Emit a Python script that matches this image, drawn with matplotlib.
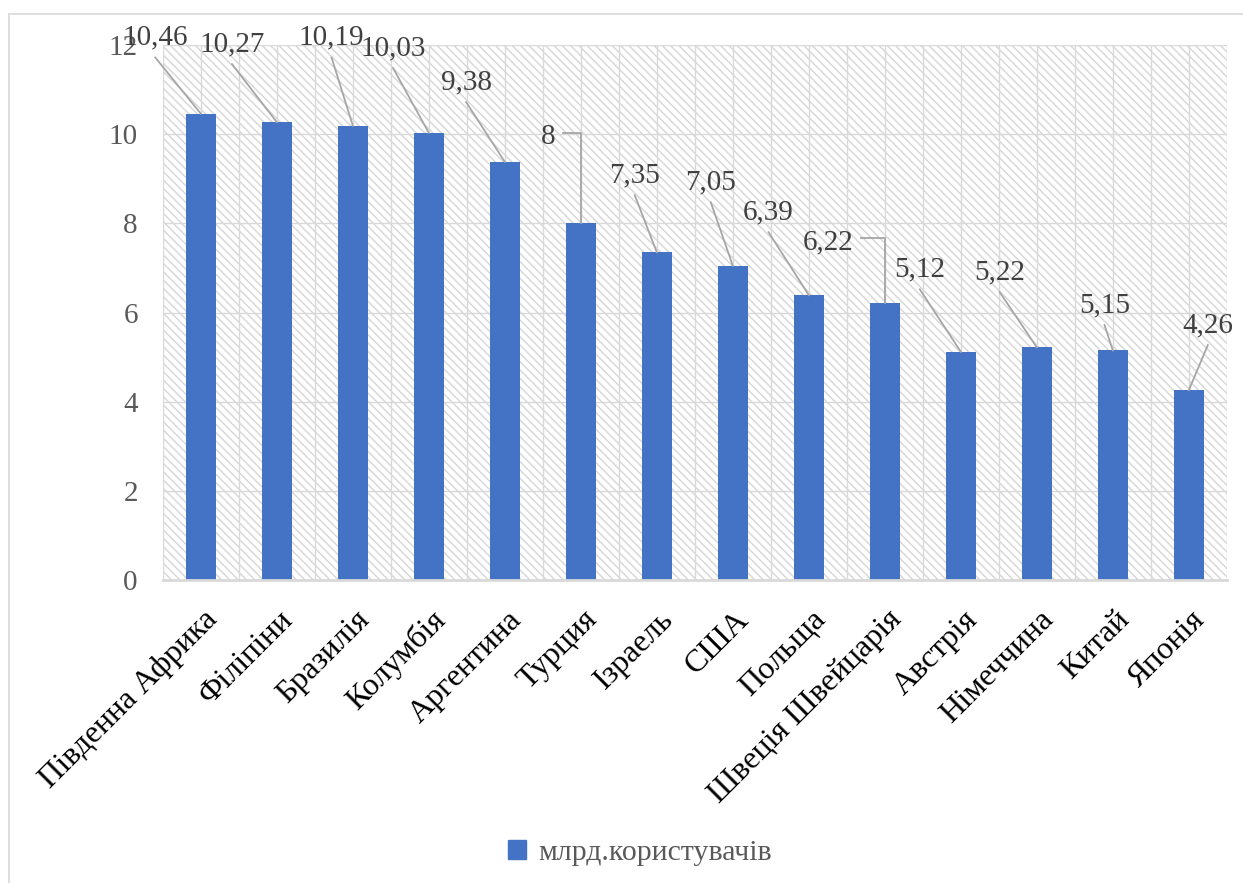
import matplotlib
matplotlib.use("Agg")
from matplotlib import pyplot as plt
from matplotlib.patches import Rectangle
from matplotlib.lines import Line2D
from matplotlib import transforms
import numpy as np

countries = ["Південна Африка", "Філіпіни", "Бразилія", "Колумбія", "Аргентина",
             "Турция", "Ізраель", "США", "Польща", "Швеція Швейцарія", "Австрія",
             "Німеччина", "Китай", "Японія"]
users = [10.46, 10.27, 10.19, 10.03, 9.38, 8, 7.35, 7.05, 6.39, 6.22, 5.12, 5.22, 5.15, 4.26]
series_name = "млрд.користувачів"
y_ticks = [0, 2, 4, 6, 8, 10, 12]

# where the data labels were dragged to (data coords), and which use an elbow line
label_x = [-0.6, 0.41, 1.72, 2.53, 3.49, 4.57, 5.71, 6.71, 7.47, 8.25, 9.46, 10.51, 11.89, 13.25]
label_y = [12.17, 12.02, 12.17, 11.93, 11.17, 9.93, 9.08, 8.92, 8.25, 7.58, 6.97, 6.91, 6.17, 5.72]
elbow = [False, False, False, False, False, True, False, False, False, True, False, False, False, False]

plt.rcParams['font.family'] = ['Liberation Serif', 'DejaVu Serif']

fig = plt.figure(figsize=(12.43, 8.83), dpi=100)
ax = fig.add_axes([0.131, 0.343, 0.856, 0.606])

# hatched plot area like the excel chart
ax.add_patch(Rectangle((0, 0), 1, 1, transform=ax.transAxes, facecolor='white',
                       edgecolor='#D6D6D6', hatch='\\\\\\\\', lw=0, zorder=0))

x = np.arange(len(countries))
ax.bar(x, users, width=0.4, color='#4472C4', zorder=2)

ax.set_xlim(-0.5, len(countries) - 0.5)
ax.set_ylim(0, 12)
ax.set_yticks(y_ticks)
ax.set_yticklabels([str(t) for t in y_ticks], color='#595959', fontsize=21)
ax.set_xticks(x)
ax.set_xticks(np.arange(-0.5, len(countries), 1.0), minor=True)
ax.set_axisbelow(True)
ax.grid(True, which='both', color='#D9D9D9', lw=1.0)
ax.tick_params(which='both', length=0)
ax.tick_params(axis='y', pad=18)
ax.tick_params(axis='x', pad=18)

offset = transforms.ScaledTranslation(2 / 100, 0, fig.dpi_scale_trans)
ax.set_xticklabels(countries, rotation=45, ha='right', va='top',
                   rotation_mode='anchor', fontsize=23, color='black')
for lab in ax.get_xticklabels():
    lab.set_transform(lab.get_transform() + offset)

for s in ['top', 'right', 'left']:
    ax.spines[s].set_visible(False)
ax.spines['bottom'].set_color('#D9D9D9')
ax.spines['bottom'].set_linewidth(2)
ax.spines['bottom'].set_zorder(3)

texts = []
for i, v in enumerate(users):
    t = ax.text(label_x[i], label_y[i], f"{v:g}".replace('.', ','), ha='center',
                va='center', fontsize=21, color='#404040', zorder=4)
    texts.append(t)

fig.canvas.draw()
renderer = fig.canvas.get_renderer()
inv = ax.transData.inverted()
for i, t in enumerate(texts):
    bb = t.get_window_extent(renderer)
    if elbow[i]:
        x0, y0 = inv.transform((bb.x1 + 8, (bb.y0 + bb.y1) / 2 + 4))
        ax.plot([x0, i, i], [y0, y0, users[i]], color='#A6A6A6', lw=1.3,
                clip_on=False, zorder=3)
    else:
        x0, y0 = inv.transform(((bb.x0 + bb.x1) / 2, bb.y0 - 7))
        ax.plot([x0, i], [y0, users[i]], color='#A6A6A6', lw=1.3,
                clip_on=False, zorder=3)

# chart border
fig.add_artist(Line2D([0.007, 1.0], [0.984, 0.984], color='#D9D9D9', lw=1.2))
fig.add_artist(Line2D([0.007, 0.007], [0.0, 0.984], color='#D9D9D9', lw=1.2))

handle = Rectangle((0, 0), 1, 1, color='#4472C4')
fig.legend([handle], [series_name], loc='center', bbox_to_anchor=(0.515, 0.034),
           frameon=False, fontsize=21.5, labelcolor='#595959',
           handlelength=0.6, handleheight=0.6, handletextpad=0.4)

fig.savefig("out.png", dpi=100)
